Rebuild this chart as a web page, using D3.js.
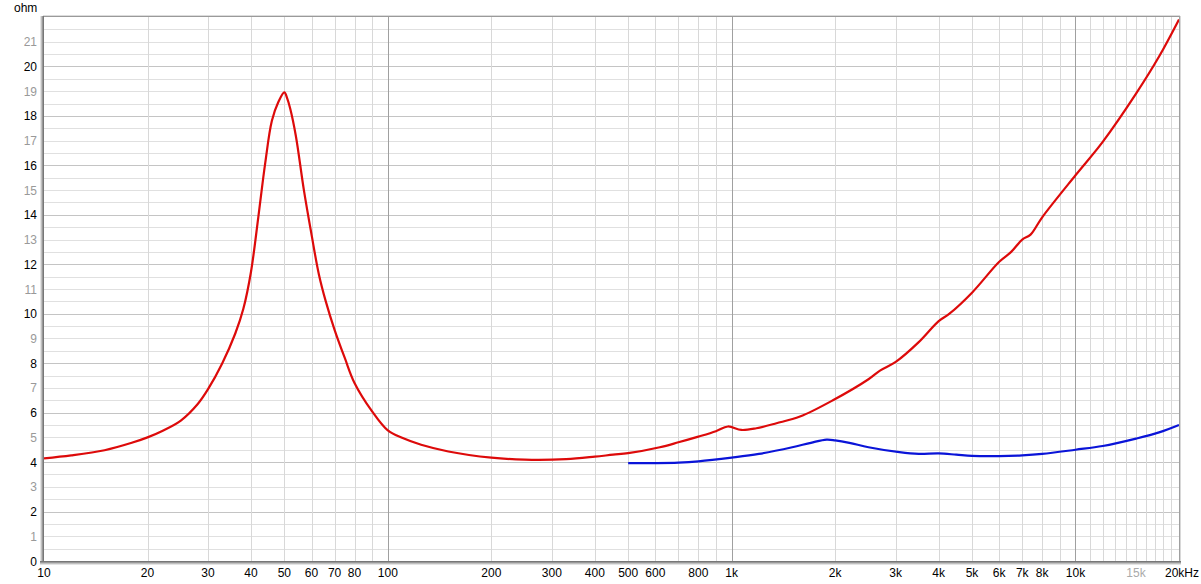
<!DOCTYPE html>
<html><head><meta charset="utf-8">
<script src="https://cdn.jsdelivr.net/npm/d3@7"></script>
<style>
html,body{margin:0;padding:0;background:#fff;}
svg{display:block;font-family:Arial,"Liberation Sans",sans-serif;}
</style></head>
<body><svg id="c" width="1201" height="584"></svg>
<script>
// ---- data ----
const redFreq = [10,12,15,18,20,22,25,28,30,33,36,38,40,42,44,46,48,50,51,52,54,57,60,63,66,70,75,80,90,100,110,125,150,200,250,330,400,452,500,618,700,800,900,975,1067,1180,1350,1580,1970,2500,2700,3000,3500,4000,4300,5000,6000,6500,7000,7400,8000,10000,12000,15000,17500,20000];
const redOhm  = [4.15,4.27,4.48,4.78,5.0,5.25,5.68,6.35,6.95,8.0,9.2,10.2,11.7,13.9,16.1,17.8,18.55,18.95,18.7,18.3,17.2,15.0,13.2,11.6,10.5,9.35,8.2,7.2,6.05,5.28,4.98,4.7,4.43,4.18,4.1,4.12,4.22,4.3,4.36,4.6,4.8,5.03,5.25,5.44,5.3,5.37,5.57,5.84,6.5,7.35,7.7,8.05,8.85,9.7,10.0,10.85,12.1,12.5,13.0,13.2,13.9,15.6,16.95,18.9,20.4,21.9];
const blueFreq = [500,600,700,800,1000,1200,1500,1700,1888,2000,2200,2500,3076,3500,4000,4500,5000,6000,7000,8000,10000,12000,15000,17500,20000];
const blueOhm  = [3.955,3.96,3.98,4.03,4.18,4.33,4.6,4.78,4.91,4.88,4.78,4.6,4.4,4.33,4.35,4.3,4.25,4.24,4.27,4.33,4.5,4.65,4.95,5.2,5.5];
const xTickVals   = [10,20,30,40,50,60,70,80,100,200,300,400,500,600,800,1000,2000,3000,4000,5000,6000,7000,8000,10000,15000,20000];
const xTickLabels = ["10","20","30","40","50","60","70","80","100","200","300","400","500","600","800","1k","2k","3k","4k","5k","6k","7k","8k","10k","15k","20kHz"];
const xGreyLabels = ["15k"];
const yTickVals = [0,1,2,3,4,5,6,7,8,9,10,11,12,13,14,15,16,17,18,19,20,21];
const yUnit = "ohm";

// ---- layout ----
const L=44, R=1179, T=17, B=561;
const svg=d3.select("#c");
const x=d3.scaleLog().domain([10,20000]).range([L,R]);
const y=d3.scaleLinear().domain([0,22]).range([B,T]);

svg.append("rect").attr("x",L).attr("y",T).attr("width",R-L).attr("height",B-T).attr("fill","#fff");

// horizontal grid every 0.5
const g=svg.append("g");
for(let v=0.5; v<22; v+=0.5){
  const even = Math.abs(v%2)<1e-9;
  g.append("line").attr("x1",L).attr("x2",R).attr("y1",Math.round(y(v))+0.5).attr("y2",Math.round(y(v))+0.5)
   .attr("stroke", even?"#c4c4c4":"#e0e0e0").attr("stroke-width",1);
}
// vertical grid
const vgrid=[];
for(let d=10; d<20000; d*=10){ for(let m=1;m<10;m++){ const f=d*m; if(f>10&&f<20000) vgrid.push(f);} }
[11000,12000,13000,14000,15000,16000,17000,18000,19000].forEach(f=>{ if(!vgrid.includes(f)) vgrid.push(f);});
vgrid.forEach(f=>{
  const dec = [100,1000,10000].includes(f);
  g.append("line").attr("y1",T).attr("y2",B).attr("x1",Math.round(x(f))+0.5).attr("x2",Math.round(x(f))+0.5)
   .attr("stroke", dec?"#a0a0a0":"#d8d8d8").attr("stroke-width",1);
});

// curves
svg.append("clipPath").attr("id","clip").append("rect").attr("x",L).attr("y",T-2).attr("width",R-L+1).attr("height",B-T+2);
const line=d3.line().x(d=>x(d[0])).y(d=>y(d[1])).curve(d3.curveCatmullRom.alpha(0.5));
svg.append("path").datum(blueFreq.map((f,i)=>[f,blueOhm[i]])).attr("d",line)
  .attr("fill","none").attr("stroke","#0a14d8").attr("stroke-width",2.2).attr("clip-path","url(#clip)");
svg.append("path").datum(redFreq.map((f,i)=>[f,redOhm[i]])).attr("d",line)
  .attr("fill","none").attr("stroke","#dd0a0a").attr("stroke-width",2.2).attr("clip-path","url(#clip)");

// frame with bevel
const fr=svg.append("g");
fr.append("line").attr("x1",L-1).attr("x2",R+1).attr("y1",T-1.5).attr("y2",T-1.5).attr("stroke","#dcdcdc");
fr.append("line").attr("x1",L-1).attr("x2",R+1).attr("y1",T-0.5).attr("y2",T-0.5).attr("stroke","#9a9a9a");
fr.append("line").attr("x1",R+0.5).attr("x2",R+0.5).attr("y1",T-1).attr("y2",B+3).attr("stroke","#a0a0a0");
fr.append("line").attr("x1",R+1.5).attr("x2",R+1.5).attr("y1",T-1).attr("y2",B+3).attr("stroke","#d8d8d8");
[["#e4e4e4",L-3.5],["#c0c0c0",L-2.5],["#999",L-1.5],["#777",L-0.5]].forEach(([c,xx])=>{
  fr.append("line").attr("x1",xx).attr("x2",xx).attr("y1",T-1).attr("y2",B+3).attr("stroke",c);
});
[["#777",B+0.5],["#999",B+1.5],["#c0c0c0",B+2.5],["#e4e4e4",B+3.5]].forEach(([c,yy])=>{
  fr.append("line").attr("x1",L-4).attr("x2",R+2).attr("y1",yy).attr("y2",yy).attr("stroke",c);
});

// y labels
svg.append("g").selectAll("text").data(yTickVals).join("text")
  .attr("x",37).attr("y",d=>y(d)+4.5).attr("text-anchor","end").attr("font-size",12)
  .attr("fill",d=>d%2===0?"#000":"#999").text(d=>d);
svg.append("text").attr("x",14).attr("y",12).attr("font-size",12).attr("fill","#000").text(yUnit);

// x labels
svg.append("g").selectAll("text").data(xTickVals).join("text")
  .attr("x",(d,i)=> i===xTickVals.length-1 ? 1199 : x(d))
  .attr("y",577).attr("font-size",12)
  .attr("text-anchor",(d,i)=> i===xTickVals.length-1 ? "end" : "middle")
  .attr("fill",(d,i)=> xGreyLabels.includes(xTickLabels[i])?"#aaa":"#000")
  .text((d,i)=>xTickLabels[i]);
</script></body></html>
